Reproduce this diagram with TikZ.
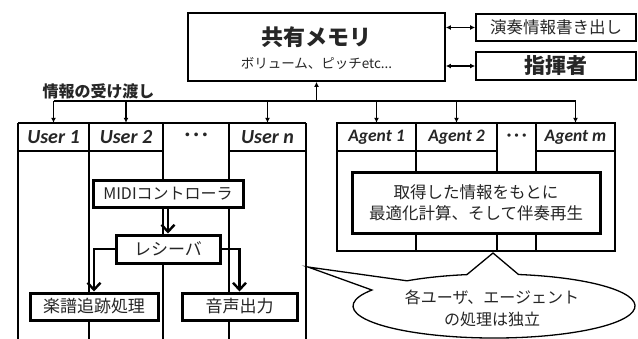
\documentclass[tikz,border=0pt]{standalone}
\usepackage{fontspec}
\setmainfont{Noto Sans CJK JP}
\newfontfamily\lat{Carlito}
\usetikzlibrary{arrows.meta}
\tikzset{
  box/.style={draw, line width=1.8pt, fill=white, inner sep=0pt},
  tbox/.style={draw, line width=3pt, fill=white, inner sep=0pt},
  cell/.style={inner sep=0pt, minimum height=28pt},
  tline/.style={line width=1.3pt},
  busarrow/.style={line width=1.3pt, -{Latex[length=5pt,width=5pt]}},
  dblarrow/.style={line width=1.3pt, {Latex[length=5pt,width=5pt]}-{Latex[length=5pt,width=5pt]}},
  flow/.style={line width=2.4pt, -{Straight Barb[length=7pt,width=13pt]}},
  usr/.style={font=\lat\bfseries\itshape\fontsize{20}{20}\selectfont},
  agt/.style={font=\lat\bfseries\itshape\fontsize{17.5}{20}\selectfont},
  jp/.style={font=\fontsize{17}{20}\selectfont},
  txt/.style={text=black!85}
}
\begin{document}
\begin{tikzpicture}[x=1pt,y=1pt]
\useasboundingbox (0,0) rectangle (638,-338);

% shared memory
\node[box, minimum width=257pt, minimum height=68pt] (mem) at (316.5,-47) {};
\node[txt, font=\bfseries\fontsize{22}{24}\selectfont] (memtitle) at (316.5,-37.5) {共有メモリ};
\node[txt, font=\fontsize{13.5}{14}\selectfont] (memsub) at (316.5,-63) {ボリューム、ピッチetc...};

\node[box, minimum width=160pt, minimum height=27pt, txt, font=\fontsize{16.5}{18}\selectfont] (out) at (556,-27.5) {演奏情報書き出し};
\node[box, minimum width=160pt, minimum height=28pt, txt, font=\bfseries\fontsize{21}{22}\selectfont] (cond) at (556,-66) {指揮者};

\draw[dblarrow] (mem.east |- out.west) -- (out.west);
\draw[dblarrow] (mem.east |- cond.west) -- (cond.west);

% bus
\coordinate (busL) at (53.5,-101);
\coordinate (busR) at (575.5,-101);
\draw[tline] (busL) -- (busR);
\draw[busarrow] (mem.south |- busL) -- (mem.south);
\node[txt, font=\bfseries\fontsize{16}{18}\selectfont] (info) at (98.5,-91.5) {情報の受け渡し};

% user table
\draw[tline] (18,-123) -- (306,-123);
\foreach \x in {18,89,163,229,306} \draw[tline] (\x,-123) -- (\x,-340);
\draw[tline] (18,-151) -- (163,-151);
\draw[tline] (229,-151) -- (306,-151);
\node[cell, usr, txt, minimum width=71pt] (u1) at (53.5,-137) {User 1};
\node[cell, usr, txt, minimum width=74pt] (u2) at (126,-137) {User 2};
\node[cell, usr, txt, minimum width=66pt] (ud) at (196,-137) {·\,·\,·};
\node[cell, usr, txt, minimum width=77pt] (un) at (267.5,-137) {User n};

% agent table
\draw[tline] (337,-123) rectangle (615,-251);
\foreach \x in {416,497,536} \draw[tline] (\x,-123) -- (\x,-251);
\draw[tline] (337,-151) -- (497,-151);
\draw[tline] (536,-151) -- (615,-151);
\node[cell, agt, txt, minimum width=79pt] (a1) at (376.5,-137) {Agent 1};
\node[cell, agt, txt, minimum width=81pt] (a2) at (456.5,-137) {Agent 2};
\node[cell, agt, txt, minimum width=39pt] (ad) at (516.5,-137) {·\,·\,·};
\node[cell, agt, txt, minimum width=79pt] (am) at (575.5,-137) {Agent m};

\foreach \n in {u1,u2,un,a1,a2,am} \draw[busarrow] (busL -| \n.north) -- (\n.north);

\node[tbox, minimum width=248pt, minimum height=61pt, txt, align=center, font=\fontsize{16.5}{21}\selectfont] (calc) at (476,-202.5) {取得した情報をもとに\\最適化計算、そして伴奏再生};

% user flow
\node[tbox, minimum width=150pt, minimum height=27pt, txt, font=\fontsize{16}{18}\selectfont] (midi) at (168,-193.5) {MIDIコントローラ};
\node[tbox, minimum width=104pt, minimum height=28pt, txt, jp] (recv) at (168,-249) {レシーバ};
\node[tbox, minimum width=128pt, minimum height=27pt, txt, jp] (score) at (94,-306.5) {楽譜追跡処理};
\node[tbox, minimum width=115pt, minimum height=27pt, txt, jp] (audio) at (239.5,-306.5) {音声出力};
\draw[flow] (midi.south) -- (recv.north);
\draw[flow] (recv.west) -| (score.north);
\draw[flow] (recv.east) -| (audio.north);

% callout
\draw[tline, fill=white] (518.5,-274.5) arc[start angle=80, end angle=-210, x radius=141pt, y radius=32pt]
  -- (308,-267) -- (407,-280.8) arc[start angle=128, end angle=101, x radius=141pt, y radius=32pt]
  -- (493,-253) -- cycle;
\node[txt, align=center, font=\fontsize{16}{22}\selectfont] (note) at (492,-308) {各ユーザ、エージェント\\の処理は独立};
\end{tikzpicture}
\end{document}
